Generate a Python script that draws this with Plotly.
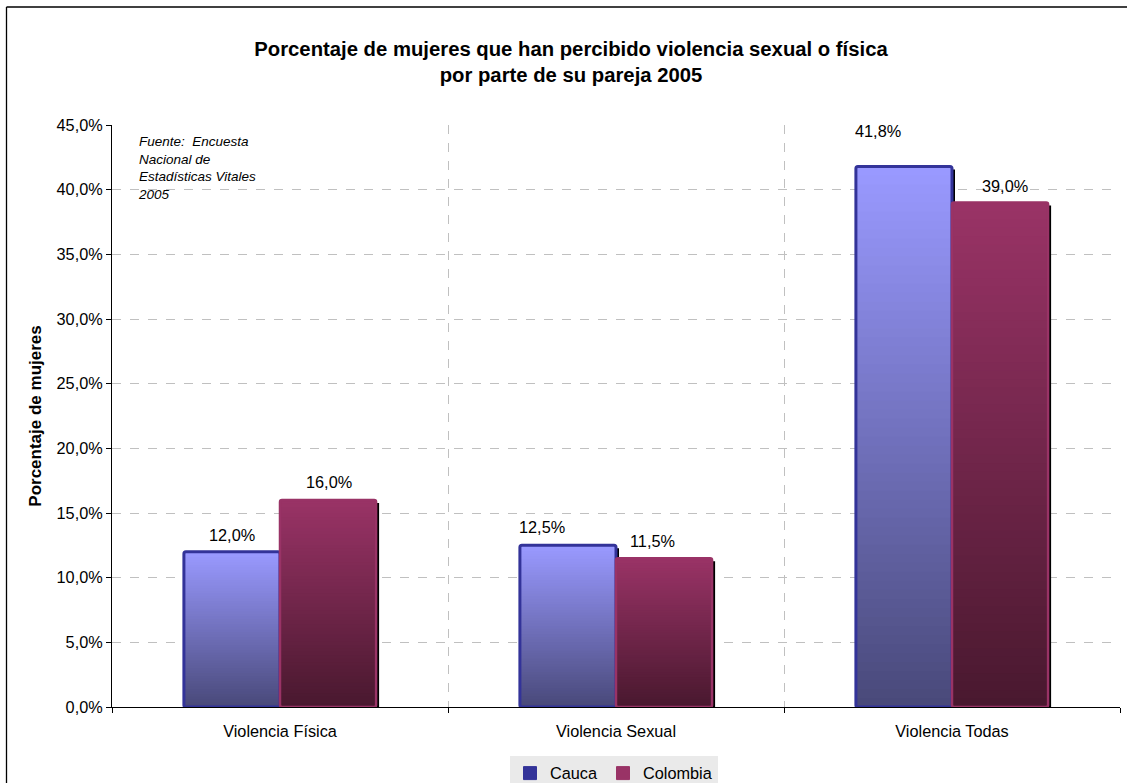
import plotly.graph_objects as go

categories = ["Violencia Física", "Violencia Sexual", "Violencia Todas"]
cauca = [12.0, 12.5, 41.8]
colombia = [16.0, 11.5, 39.0]
series_names = ["Cauca", "Colombia"]
y_ticks = [0, 5, 10, 15, 20, 25, 30, 35, 40, 45]

title_text = "<b>Porcentaje de mujeres que han percibido violencia sexual o física<br>por parte de su pareja 2005</b>"
y_title = "<b>Porcentaje de mujeres</b>"
source_text = "Fuente:\u00a0 Encuesta<br>Nacional de<br>Estadísticas Vitales<br>2005"

# style
FONT = "Liberation Sans, Arial, sans-serif"
FS = 16.3
W, H = 1127, 783
ML, MR, MT = 112, 7, 125
PLOT_BOTTOM = 707
MB = H - PLOT_BOTTOM
BAR_W = 0.286
N_SEG = 60
styles = [
    dict(top=(153, 153, 255), bottom=(72, 72, 120), line="#333399", lw=3, offset=-BAR_W),
    dict(top=(153, 51, 102), bottom=(72, 24, 46), line="#993366", lw=2.5, offset=0.0),
]
label_xshift = [[0, -26, -26], [1, -12, 5]]
label_yshift = [[17, 18, 35], [18, 17, 17]]

plot_h = H - MT - MB
plot_w = W - ML - MR
px_per_unit_y = plot_h / 45.0
px_per_cat = plot_w / 3.0
shadow_dx = 3 / px_per_cat
shadow_dy = 3 / px_per_unit_y

fig = go.Figure()

for s, (name, vals) in enumerate(zip(series_names, [cauca, colombia])):
    st = styles[s]
    # shadow
    fig.add_trace(go.Bar(
        x=categories, y=[v - shadow_dy for v in vals], base=0,
        offset=st["offset"] + shadow_dx, width=BAR_W,
        marker=dict(color="black", line=dict(width=0)),
        showlegend=False, hoverinfo="skip"))
    # gradient (overlapping bars, shrinking heights)
    for k in range(N_SEG):
        frac = 1 - k / N_SEG
        t = 1 - frac
        c = tuple(round(st["top"][j] + (st["bottom"][j] - st["top"][j]) * t) for j in range(3))
        fig.add_trace(go.Bar(
            x=categories, y=[v * frac for v in vals], base=0,
            offset=st["offset"], width=BAR_W,
            marker=dict(color="rgb(%d,%d,%d)" % c, line=dict(width=0)),
            showlegend=False, hoverinfo="skip"))
    # outline
    fig.add_trace(go.Bar(
        x=categories, y=vals, base=0,
        offset=st["offset"], width=BAR_W,
        marker=dict(color="rgba(0,0,0,0)", line=dict(color=st["line"], width=st["lw"]), cornerradius=2),
        showlegend=False, hoverinfo="skip"))
    # legend entry
    fig.add_trace(go.Scatter(
        x=[None], y=[None], mode="markers", name=name,
        marker=dict(symbol="square", size=13, color=st["line"],
                    line=dict(color=st["line"], width=1))))
    # labels
    for i, v in enumerate(vals):
        fig.add_annotation(
            x=i + st["offset"] + BAR_W / 2, y=v, xref="x", yref="y",
            text=("%.1f%%" % v).replace(".", ","), showarrow=False,
            xshift=label_xshift[s][i], yshift=label_yshift[s][i],
            yanchor="middle", font=dict(family=FONT, size=FS, color="black"))

fig.add_annotation(
    x=(136 - ML) / plot_w, y=1 - (132 - MT) / plot_h, xref="paper", yref="paper",
    text="<i>" + source_text + "</i>", showarrow=False,
    align="left", xanchor="left", yanchor="top",
    font=dict(family=FONT, size=13.5, color="black"))

# outer frame (left and top edges visible in the reference)
fx0 = -(ML - 6.5) / plot_w
fy1 = 1 + (MT - 7) / plot_h
fig.add_shape(type="line", xref="paper", yref="paper",
              x0=fx0, x1=fx0, y0=-(MB + 20) / plot_h, y1=fy1,
              line=dict(color="black", width=1.3), layer="below")
fig.add_shape(type="line", xref="paper", yref="paper",
              x0=fx0, x1=(W + 20 - ML) / plot_w, y0=fy1, y1=fy1,
              line=dict(color="black", width=1.3), layer="below")

fig.update_layout(
    width=W, height=H,
    margin=dict(l=ML, r=MR, t=MT, b=MB, autoexpand=False),
    paper_bgcolor="white", plot_bgcolor="white",
    barmode="overlay",
    separators=",.",
    font=dict(family=FONT, size=FS, color="black"),
    title=dict(text=title_text, x=571 / W, xref="container", xanchor="center",
               y=1 - 56 / H, yref="container", yanchor="middle",
               font=dict(family=FONT, size=20.3, color="black")),
    showlegend=True,
    legend=dict(orientation="h", x=(614 - ML) / plot_w, xanchor="center",
                y=-(756 - PLOT_BOTTOM) / plot_h, yanchor="top",
                bgcolor="rgb(234,234,234)", font=dict(family=FONT, size=FS),
                itemwidth=30, tracegroupgap=0, itemclick=False,
                borderwidth=0),
    xaxis=dict(type="category", range=[-0.5, 2.5], tickson="boundaries",
               ticks="outside", ticklen=5, tickcolor="black",
               ticklabelstandoff=9,
               showline=True, linecolor="black", linewidth=1,
               showgrid=True, gridcolor="#c0c0c0", griddash="dash", gridwidth=1,
               tickfont=dict(family=FONT, size=FS), fixedrange=True),
    yaxis=dict(range=[0, 45], tickvals=y_ticks,
               ticktext=[("%.1f%%" % t).replace(".", ",") for t in y_ticks],
               ticks="outside", ticklen=5, tickcolor="black",
               showline=True, linecolor="black", linewidth=1,
               showgrid=True, gridcolor="#c0c0c0", griddash="dash", gridwidth=1,
               zeroline=False, tickfont=dict(family=FONT, size=FS),
               title=dict(text=y_title, font=dict(family=FONT, size=17), standoff=10),
               fixedrange=True),
)

fig.write_html("out.html",
               post_script="document.body.style.margin='0';document.body.style.overflow='hidden';",
               config={"displayModeBar": False})
